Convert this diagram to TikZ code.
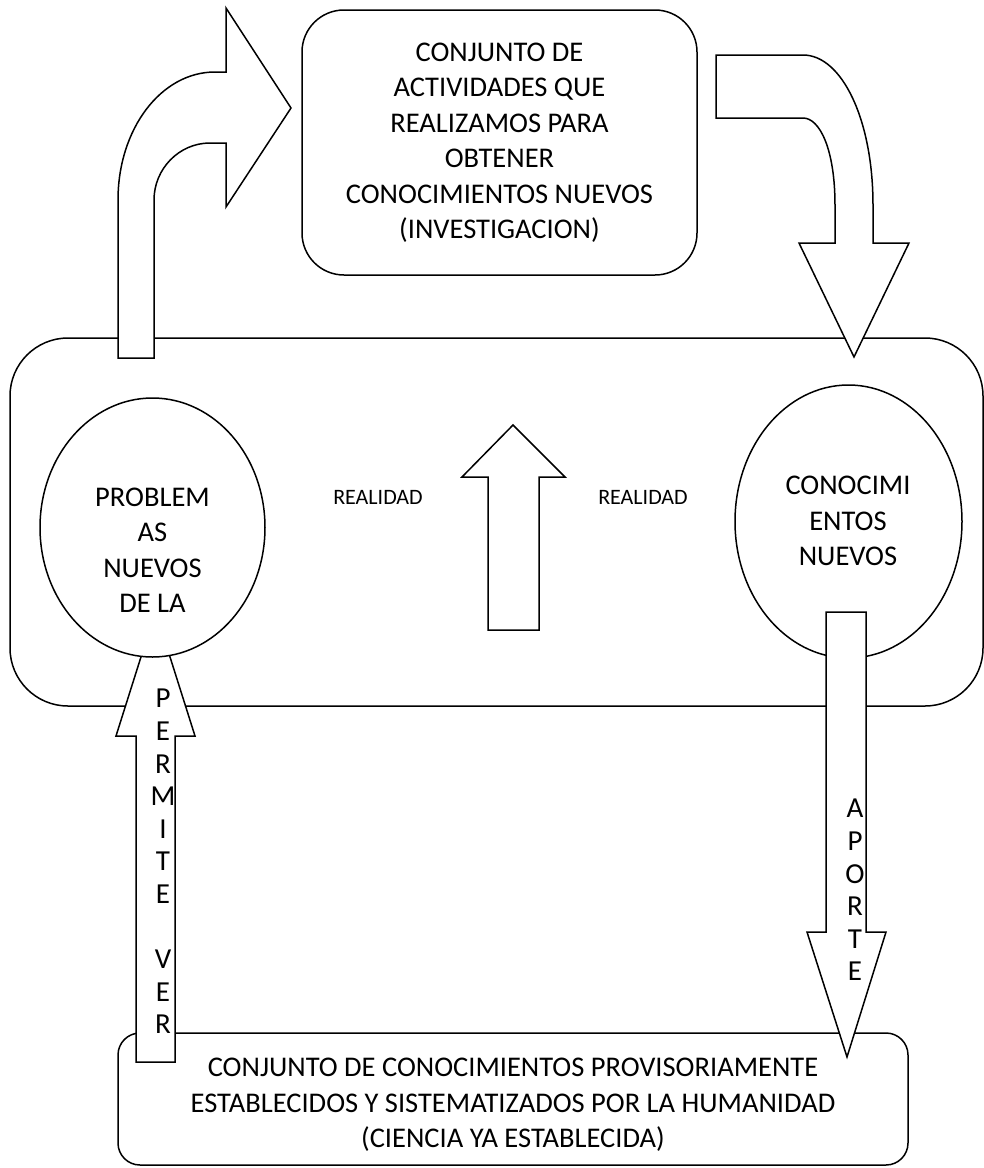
\documentclass[tikz,border=0pt]{standalone}
\usepackage{fontspec}
\setmainfont{Carlito}
\usetikzlibrary{shapes.geometric}
\tikzset{
  panel/.style={draw, fill=white, line width=1.5pt, inner sep=0pt, align=center},
  bulb/.style={ellipse, draw, fill=white, line width=1.5pt, inner sep=0pt},
  blockarrow/.style={draw, fill=white, line width=1.5pt, line join=miter},
  caption/.style={align=center, font=\fontsize{28.5}{35.5}\selectfont},
  letters/.style={align=center, inner sep=0pt, font=\fontsize{29}{32.6}\selectfont}
}

\begin{document}
\begin{tikzpicture}[x=1pt, y=-1pt]
    \useasboundingbox (0,0) rectangle (984,1168);
    % boxes
    \node[panel, caption, rounded corners=42, minimum width=395, minimum height=265] (research) at (499.5,142.5)
        {CONJUNTO DE\\ACTIVIDADES QUE\\REALIZAMOS PARA\\OBTENER\\CONOCIMIENTOS NUEVOS\\(INVESTIGACION)};
    \node[panel, rounded corners=58, minimum width=973, minimum height=368] (reality) at (496.5,522) {};
    \node[panel, rounded corners=22, minimum width=790, minimum height=132] (science) at (513,1099) {};
    \node[caption] (sciencetext) at (513,1105)
        {CONJUNTO DE CONOCIMIENTOS PROVISORIAMENTE\\ESTABLECIDOS Y SISTEMATIZADOS POR LA HUMANIDAD\\(CIENCIA YA ESTABLECIDA)};
    % arrows
    \draw[blockarrow] (118,358) -- (118,200) .. controls (118,129) and (161,72) .. (215,72) -- (226,72) -- (226,8)
        -- (291,108) -- (226,207) -- (226,143) -- (210,143) .. controls (179,143) and (154,169) .. (154,200) -- (154,358) -- cycle;
    \draw[blockarrow] (716,55) -- (803,55) .. controls (842,55) and (873,120) .. (873,205) -- (873,243) -- (909,243)
        -- (854,357) -- (799,243) -- (835,243) -- (835,205) .. controls (835,150) and (820,118) .. (803,118) -- (716,118) -- cycle;
    \draw[blockarrow] (488,630) -- (488,477) -- (462,477) -- (513,425) -- (565,477) -- (539,477) -- (539,630) -- cycle;
    \draw[blockarrow] (136,1062) -- (136,736) -- (116,736) -- (155.5,611) -- (195,736) -- (175,736) -- (175,1062) -- cycle;
    % ellipses
    \node[bulb, minimum width=225, minimum height=259] (problems) at (152.5,527.5) {};
    \node[caption] (problemstext) at (152.5,550) {PROBLEM\\AS\\NUEVOS\\DE LA};
    \node[bulb, minimum width=227, minimum height=273] (knowledge) at (848.5,521.5) {};
    \node[caption] (knowledgetext) at (848,521) {CONOCIMI\\ENTOS\\NUEVOS};
    \draw[blockarrow] (826,612) -- (866,612) -- (866,932) -- (886,932) -- (847,1057) -- (807,932) -- (826,932) -- cycle;
    % labels
    \node[caption, font=\fontsize{22}{26}\selectfont] (realleft) at (378,497) {REALIDAD};
    \node[caption, font=\fontsize{22}{26}\selectfont] (realright) at (643,497) {REALIDAD};
    \node[letters, anchor=north] (permit) at (163,689) {P\\E\\R\\M\\I\\T\\E\\ \\V\\E\\R};
    \node[letters, anchor=north] (contribute) at (855,799) {A\\P\\O\\R\\T\\E};
\end{tikzpicture}
\end{document}
